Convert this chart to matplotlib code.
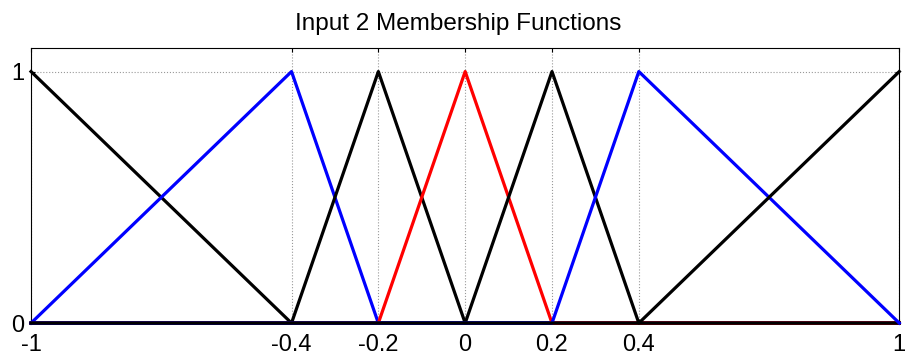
import numpy as np
from matplotlib import pyplot as plt

plt.rcParams['font.family'] = ['Liberation Sans', 'DejaVu Sans']

# triangular membership functions [a, b, c]
mf_params = [[-1.6, -1.0, -0.4],
             [-1.0, -0.4, -0.2],
             [-0.4, -0.2, 0.0],
             [-0.2, 0.0, 0.2],
             [0.0, 0.2, 0.4],
             [0.2, 0.4, 1.0],
             [0.4, 1.0, 1.6]]
mf_colors = ['black', 'blue', 'black', 'red', 'black', 'blue', 'black']
x_ticks = [-1, -0.4, -0.2, 0, 0.2, 0.4, 1]
x_ticklabels = ['-1', '-0.4', '-0.2', '0', '0.2', '0.4', '1']
y_ticks = [0, 1]

fig = plt.figure(figsize=(9.13, 3.61), dpi=100)
ax = fig.add_axes([0.034, 0.105, 0.951, 0.763])

x = np.linspace(-1, 1, 181)
for (a, b, c), col in zip(mf_params, mf_colors):
    y = np.interp(x, [a, b, c], [0, 1, 0])
    ax.plot(x, y, color=col, lw=2.3, clip_on=False, zorder=3)

ax.set_xlim(-1, 1)
ax.set_ylim(0, 1.095)
ax.set_xticks(x_ticks)
ax.set_xticklabels(x_ticklabels)
ax.set_yticks(y_ticks)
ax.grid(True, color='#999999', linestyle=':', linewidth=0.8)
ax.tick_params(direction='in', length=3, top=True, right=True, labelsize=17)
ax.tick_params(axis='x', pad=8)
ax.tick_params(axis='y', pad=5)
for s in ax.spines.values():
    s.set_linewidth(0.8)
ax.set_title('Input 2 Membership Functions', fontsize=17.5, pad=13, x=0.492)

fig.savefig('out.png', dpi=100)
